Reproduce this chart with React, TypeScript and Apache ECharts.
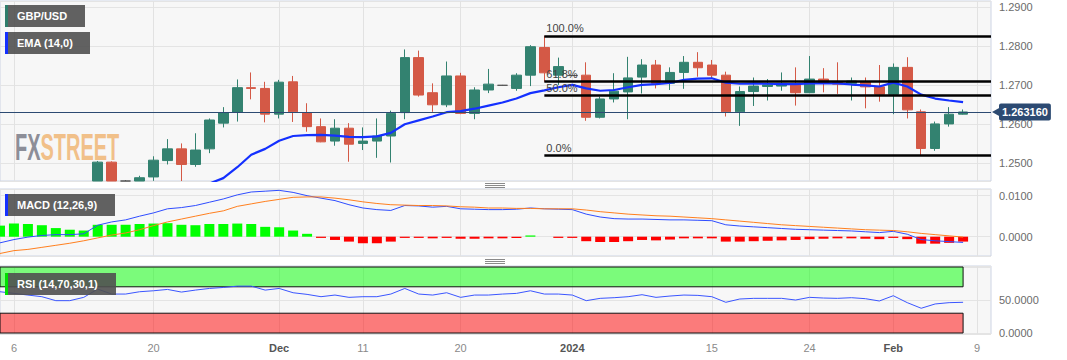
import React, { useEffect, useRef } from 'react';
import * as echarts from 'echarts';

const FONT = '"Liberation Sans", Arial, Helvetica, sans-serif';

// Category slots (trading days). The last two are empty future slots on the axis.
const dates = [
  '2023-11-03', '2023-11-06', '2023-11-07', '2023-11-08', '2023-11-09', '2023-11-10',
  '2023-11-13', '2023-11-14', '2023-11-15', '2023-11-16', '2023-11-17',
  '2023-11-20', '2023-11-21', '2023-11-22', '2023-11-23', '2023-11-24',
  '2023-11-27', '2023-11-28', '2023-11-29', '2023-11-30', '2023-12-01',
  '2023-12-04', '2023-12-05', '2023-12-06', '2023-12-07', '2023-12-08',
  '2023-12-11', '2023-12-12', '2023-12-13', '2023-12-14', '2023-12-15',
  '2023-12-18', '2023-12-19', '2023-12-20', '2023-12-21', '2023-12-22',
  '2023-12-25', '2023-12-26', '2023-12-27', '2023-12-28', '2023-12-29',
  '2024-01-01', '2024-01-02', '2024-01-03', '2024-01-04', '2024-01-05',
  '2024-01-08', '2024-01-09', '2024-01-10', '2024-01-11', '2024-01-12',
  '2024-01-15', '2024-01-16', '2024-01-17', '2024-01-18', '2024-01-19',
  '2024-01-22', '2024-01-23', '2024-01-24', '2024-01-25', '2024-01-26',
  '2024-01-29', '2024-01-30', '2024-01-31', '2024-02-01', '2024-02-02',
  '2024-02-05', '2024-02-06', '2024-02-07', '2024-02-08',
  '2024-02-09', '2024-02-12',
];

const tickLabels: Record<string, string> = {
  '2023-11-06': '6',
  '2023-11-20': '20',
  '2023-12-01': 'Dec',
  '2023-12-11': '11',
  '2023-12-20': '20',
  '2024-01-01': '2024',
  '2024-01-15': '15',
  '2024-01-24': '24',
  '2024-02-01': 'Feb',
  '2024-02-09': '9',
};
const boldTicks = ['Dec', '2024', 'Feb'];

const open = [
  1.2215, 1.2380, 1.2372, 1.2304, 1.2269, 1.2240,
  1.2230, 1.2275, 1.2503, 1.2419, 1.2412,
  1.2465, 1.2507, 1.2537, 1.2497, 1.2537,
  1.2603, 1.2631, 1.2694, 1.2692, 1.2626,
  1.2709, 1.2630, 1.2594, 1.2557, 1.2590,
  1.2551, 1.2557, 1.2570, 1.2630, 1.2771,
  1.2681, 1.2650, 1.2724, 1.2628, 1.2688,
  1.2700, 1.2692, 1.2726, 1.2797, 1.2726,
  1.2725, 1.2726, 1.2618, 1.2665, 1.2683,
  1.2721, 1.2752, 1.2705, 1.2733, 1.2759,
  1.2752, 1.2726, 1.2632, 1.2684, 1.2697,
  1.2698, 1.2705, 1.2681, 1.2716, 1.2707,
  1.2705, 1.2709, 1.2696, 1.2677, 1.2746,
  1.2632, 1.2538, 1.2601, 1.2626,
];
const high = [
  1.2428, 1.2428, 1.2380, 1.2323, 1.2306, 1.2263,
  1.2288, 1.2506, 1.2505, 1.2457, 1.2468,
  1.2518, 1.2562, 1.2551, 1.2577, 1.2615,
  1.2644, 1.2715, 1.2733, 1.2709, 1.2714,
  1.2724, 1.2654, 1.2615, 1.2613, 1.2603,
  1.2592, 1.2615, 1.2635, 1.2792, 1.2789,
  1.2705, 1.2761, 1.2732, 1.2695, 1.2742,
  1.2701, 1.2731, 1.2803, 1.2827, 1.2771,
  1.2726, 1.2759, 1.2671, 1.2731, 1.2773,
  1.2767, 1.2765, 1.2746, 1.2775, 1.2785,
  1.2765, 1.2735, 1.2697, 1.2720, 1.2716,
  1.2733, 1.2746, 1.2775, 1.2744, 1.2759,
  1.2720, 1.2720, 1.2752, 1.2756, 1.2772,
  1.2638, 1.2607, 1.2644, 1.2638,
];
const low = [
  1.2210, 1.2358, 1.2287, 1.2262, 1.2231, 1.2187,
  1.2210, 1.2268, 1.2409, 1.2375, 1.2397,
  1.2455, 1.2497, 1.2449, 1.2491, 1.2526,
  1.2592, 1.2607, 1.2664, 1.2605, 1.2615,
  1.2606, 1.2581, 1.2554, 1.2545, 1.2504,
  1.2534, 1.2514, 1.2502, 1.2613, 1.2671,
  1.2632, 1.2644, 1.2626, 1.2613, 1.2680,
  1.2699, 1.2686, 1.2698, 1.2709, 1.2701,
  1.2724, 1.2609, 1.2615, 1.2656, 1.2613,
  1.2679, 1.2692, 1.2688, 1.2691, 1.2722,
  1.2718, 1.2620, 1.2596, 1.2647, 1.2661,
  1.2686, 1.2648, 1.2680, 1.2682, 1.2678,
  1.2661, 1.2641, 1.2658, 1.2626, 1.2615,
  1.2521, 1.2532, 1.2594, 1.2625,
];
const close = [
  1.2380, 1.2372, 1.2304, 1.2269, 1.2240, 1.2230,
  1.2275, 1.2503, 1.2419, 1.2412, 1.2463,
  1.2508, 1.2537, 1.2497, 1.2534, 1.2611,
  1.2630, 1.2694, 1.2692, 1.2626, 1.2708,
  1.2632, 1.2594, 1.2555, 1.2590, 1.2549,
  1.2557, 1.2570, 1.2628, 1.2771, 1.2675,
  1.2650, 1.2724, 1.2628, 1.2688, 1.2703,
  1.2700, 1.2726, 1.2799, 1.2732, 1.2748,
  1.2725, 1.2618, 1.2665, 1.2685, 1.2719,
  1.2752, 1.2705, 1.2733, 1.2759, 1.2745,
  1.2726, 1.2632, 1.2684, 1.2698, 1.2701,
  1.2705, 1.2681, 1.2716, 1.2705, 1.2703,
  1.2711, 1.2696, 1.2677, 1.2746, 1.2637,
  1.2538, 1.2601, 1.2626, 1.26316,
];

const ema14 = [
  1.2262, 1.2277, 1.2280, 1.2278, 1.2273, 1.2267,
  1.2268, 1.2299, 1.2315, 1.2328, 1.2346,
  1.2368, 1.2391, 1.2405, 1.2422, 1.2448,
  1.2462, 1.2490, 1.2522, 1.2537, 1.2558,
  1.2570, 1.2572, 1.2573, 1.2571, 1.2568,
  1.2567, 1.2569, 1.2578, 1.2600, 1.2610,
  1.2620, 1.2631, 1.2634, 1.2640, 1.2648,
  1.2656, 1.2666, 1.2680, 1.2687, 1.2695,
  1.2701, 1.2692, 1.2686, 1.2688, 1.2695,
  1.2701, 1.2703, 1.2706, 1.2714, 1.2717,
  1.2718, 1.2707, 1.2704, 1.2705, 1.2704,
  1.2703, 1.2703, 1.2705, 1.2705, 1.2705,
  1.2702, 1.2700, 1.2697, 1.2707, 1.2697,
  1.2676, 1.2666, 1.2661, 1.2657,
];

const macdLine = [
  -0.0015,
  -0.0007, -0.0001, 0.0003, 0.0005, 0.0005, 0.0007, 0.0028, 0.0036, 0.0041, 0.0050,
  0.0058, 0.0068, 0.0071, 0.0076, 0.0084, 0.0092, 0.0102, 0.0109, 0.0111, 0.0113,
  0.0108, 0.0100, 0.0094, 0.0088, 0.0078, 0.0070, 0.0066, 0.0064, 0.0076, 0.0075,
  0.0072, 0.0074, 0.0068, 0.0067, 0.0066, 0.0066, 0.0067, 0.0070, 0.0068, 0.0067,
  0.0066, 0.0055, 0.0048, 0.0044, 0.0043, 0.0043, 0.0042, 0.0041, 0.0041, 0.0040,
  0.0039, 0.0029, 0.0026, 0.0024, 0.0022, 0.0020, 0.0018, 0.0017, 0.0016, 0.0015,
  0.0014, 0.0012, 0.0010, 0.0013, 0.0006, -0.0007, -0.0010, -0.0012, -0.0014,
];
const signalLine = [
  -0.0041,
  -0.0034, -0.0031, -0.0026, -0.0021, -0.0016, -0.0010, -0.0003, 0.0004, 0.0009, 0.0017,
  0.0027, 0.0036, 0.0043, 0.0050, 0.0057, 0.0063, 0.0074, 0.0080, 0.0086, 0.0091,
  0.0096, 0.0097, 0.0097, 0.0094, 0.0090, 0.0085, 0.0081, 0.0078, 0.0077, 0.0076,
  0.0076, 0.0075, 0.0073, 0.0072, 0.0070, 0.0070, 0.0069, 0.0069, 0.0068, 0.0068,
  0.0068, 0.0065, 0.0061, 0.0058, 0.0055, 0.0053, 0.0051, 0.0050, 0.0048, 0.0046,
  0.0044, 0.0041, 0.0038, 0.0035, 0.0032, 0.0029, 0.0027, 0.0025, 0.0023, 0.0021,
  0.0019, 0.0017, 0.0016, 0.0015, 0.0012, 0.0008, 0.0005, 0.0002, -0.0001,
];
const macdHist = [
  0.0027,
  0.0032, 0.0031, 0.0028, 0.0021, 0.0017, 0.0015, 0.0029, 0.0029, 0.0029, 0.0031,
  0.0032, 0.0033, 0.0029, 0.0028, 0.0031, 0.0031, 0.0032, 0.0031, 0.0024, 0.0023,
  0.0015, 0.0007, -0.0003, -0.0008, -0.0012, -0.0016, -0.0016, -0.0012, -0.0003, -0.0003,
  -0.0004, -0.0003, -0.0005, -0.0005, -0.0004, -0.0004, -0.0003, 0.0003, 0.0000, -0.0003,
  -0.0003, -0.0011, -0.0013, -0.0013, -0.0011, -0.0008, -0.0009, -0.0007, -0.0004, -0.0004,
  -0.0004, -0.0012, -0.0012, -0.0011, -0.0010, -0.0009, -0.0008, -0.0006, -0.0005, -0.0004,
  -0.0004, -0.0005, -0.0006, -0.0003, -0.0006, -0.0017, -0.0017, -0.0015, -0.0012,
];

const rsi = [
  62.5,
  60, 57.5, 55, 49, 49, 54, 66.5, 59, 59, 62.5,
  64, 66, 62, 65, 67.5, 69, 71, 71, 65, 67.5,
  61, 58.5, 55, 57.5, 54, 55, 55, 59, 67.5, 59,
  57.5, 61, 54, 57.5, 57.5, 59, 60, 64, 59, 59,
  57.5, 49, 52.5, 53.5, 55, 58, 54, 56, 57.5, 57,
  55, 46.5, 51.5, 52.5, 52.5, 52.5, 50, 54, 53, 52.5,
  53.5, 52, 48.5, 56.5, 46, 37.5, 44, 46, 46.5,
];

const lastPrice = 1.26316;
const fibStartDate = '2023-12-28';
const fibLevels = [
  { label: '100.0%', value: 1.2827 },
  { label: '61.8%', value: 1.2710 },
  { label: '50.0%', value: 1.2674 },
  { label: '0.0%', value: 1.2521 },
];
const rsiOverbought = 70;
const rsiOversold = 30;

const PRICE_MIN = 1.24546;
const PRICE_MAX = 1.29162;
const GRID_RIGHT = 76;
const tickShown = (i: number) => !!tickLabels[dates[i]];

function xAxis(gridIndex: number, showLabels: boolean) {
  return {
    type: 'category',
    gridIndex,
    data: dates,
    boundaryGap: false,
    axisLine: { show: false },
    axisTick: { show: false },
    axisPointer: { show: false },
    axisLabel: {
      show: showLabels,
      interval: (i: number) => tickShown(i),
      formatter: (v: string) => {
        const t = tickLabels[v];
        if (!t) return '';
        return boldTicks.includes(t) ? `{b|${t}}` : t;
      },
      color: '#8a8a8a',
      fontSize: 11,
      margin: 8,
      rich: { b: { fontWeight: 'bold', color: '#555', fontSize: 11 } },
    },
    splitLine: {
      show: true,
      interval: (i: number) => tickShown(i),
      lineStyle: { color: '#e2e2e2', width: 1 },
    },
  };
}

function yAxis(gridIndex: number, min: number, max: number, splitNumber: number, hideVal?: number) {
  return {
    type: 'value',
    gridIndex,
    position: 'right',
    min,
    max,
    splitNumber,
    axisLine: { show: false },
    axisTick: { show: false },
    axisLabel: {
      showMinLabel: false,
      showMaxLabel: false,
      color: '#6b6b6b',
      fontSize: 11,
      margin: 8,
      formatter: (v: number) => (hideVal !== undefined && Math.abs(v - hideVal) < 1e-9 ? '' : v.toFixed(4)),
    },
    splitLine: { show: true, lineStyle: { color: '#e4e4e4', width: 1 } },
  };
}

function labelBox(x: number, y: number, w: number, text: string, barColor: string) {
  return {
    type: 'group',
    z: 30,
    children: [
      { type: 'rect', z: 30, shape: { x, y, width: w, height: 22 }, style: { fill: 'rgba(80,80,80,0.9)' } },
      { type: 'rect', z: 31, shape: { x, y, width: 3, height: 22 }, style: { fill: barColor } },
      {
        type: 'text', z: 31, x: x + 12, y: y + 11,
        style: { text, fill: '#ffffff', font: `bold 11px ${FONT}`, verticalAlign: 'middle' },
      },
    ],
  };
}

function handle(y: number) {
  return {
    type: 'group',
    z: 30,
    children: [0, 1, 2].map((j) => ({
      type: 'line',
      shape: { x1: 485, y1: y + j * 2 + 0.5, x2: 505, y2: y + j * 2 + 0.5 },
      style: { stroke: '#8a8a8a', lineWidth: 1 },
    })),
  };
}

export default function App() {
  const ref = useRef<HTMLDivElement>(null);

  useEffect(() => {
    if (!ref.current) return;
    const chart = echarts.init(ref.current, null, { renderer: 'svg' });

    // candlestick boxes are not clipped partially, so cut them at the panel floor
    const floor = (v: number) => Math.max(v, PRICE_MIN);
    const candles = open.map((o, k) =>
      high[k] < PRICE_MIN ? '-' : [floor(o), floor(close[k]), floor(low[k]), floor(high[k])]
    );
    const lastCat = dates[dates.length - 1];
    const lastDataCat = dates[open.length - 1];

    const gridBase = {
      left: 0,
      right: GRID_RIGHT,
      show: true,
      backgroundColor: '#f7f7f7',
      borderColor: '#cdd4e4',
      borderWidth: 1,
    };

    const option: any = {
      animation: false,
      textStyle: { fontFamily: FONT },
      grid: [
        { ...gridBase, top: 1, height: 180 },
        { ...gridBase, top: 189, height: 67 },
        { ...gridBase, top: 266, height: 68 },
      ],
      xAxis: [xAxis(0, false), xAxis(1, false), xAxis(2, true)],
      yAxis: [
        yAxis(0, PRICE_MIN, PRICE_MAX, 5),
        yAxis(1, -0.00471, 0.01163, 2),
        yAxis(2, -1.5, 101.5, 2, 100),
      ],
      series: [
        {
          name: 'GBP/USD',
          type: 'candlestick',
          xAxisIndex: 0,
          yAxisIndex: 0,
          data: candles,
          barWidth: 10,
          clip: true,
          itemStyle: {
            color: '#338270',
            color0: '#d45946',
            borderColor: '#338270',
            borderColor0: '#d45946',
            borderColorDoji: '#555555',
            borderWidth: 1,
          },
          markLine: {
            silent: true,
            precision: 6,
            symbol: ['none', 'none'],
            data: [
              ...fibLevels.map((f) => [
                {
                  coord: [fibStartDate, f.value],
                  lineStyle: { color: '#000000', width: 2.5, type: 'solid' },
                  label: {
                    show: true,
                    position: 'insideStartTop',
                    formatter: f.label,
                    color: '#444',
                    fontSize: 11,
                    distance: 2,
                  },
                },
                { coord: [lastCat, f.value] },
              ]),
              {
                yAxis: lastPrice,
                lineStyle: { color: '#2c4a72', width: 1, type: 'solid' },
                label: {
                  show: true,
                  position: 'end',
                  distance: 8,
                  formatter: lastPrice.toFixed(6),
                  backgroundColor: '#2c4a72',
                  color: '#ffffff',
                  fontWeight: 'bold',
                  fontSize: 11,
                  padding: [3, 3, 3, 3],
                  borderRadius: 2,
                },
              },
            ],
          },
          markPoint: {
            silent: true,
            symbol: 'triangle',
            symbolSize: [9, 8],
            symbolRotate: 90,
            symbolOffset: [5, 0],
            itemStyle: { color: '#2c4a72' },
            label: { show: false },
            data: [{ coord: [lastCat, lastPrice] }],
          },
        },
        {
          name: 'EMA',
          type: 'line',
          xAxisIndex: 0,
          yAxisIndex: 0,
          data: ema14,
          showSymbol: false,
          symbol: 'none',
          clip: true,
          lineStyle: { color: '#1430ff', width: 2.2 },
          z: 3,
        },
        {
          name: 'Histogram',
          type: 'bar',
          xAxisIndex: 1,
          yAxisIndex: 1,
          data: macdHist,
          barWidth: 10,
          itemStyle: {
            color: (p: any) => (p.value >= 0 ? '#00ff00' : '#ff0000'),
          },
        },
        {
          name: 'MACD',
          type: 'line',
          xAxisIndex: 1,
          yAxisIndex: 1,
          data: macdLine,
          showSymbol: false,
          symbol: 'none',
          lineStyle: { color: '#2e4cff', width: 1 },
          z: 4,
        },
        {
          name: 'Signal',
          type: 'line',
          xAxisIndex: 1,
          yAxisIndex: 1,
          data: signalLine,
          showSymbol: false,
          symbol: 'none',
          lineStyle: { color: '#ff7f1e', width: 1 },
          z: 4,
        },
        {
          name: 'RSI',
          type: 'line',
          xAxisIndex: 2,
          yAxisIndex: 2,
          data: rsi,
          showSymbol: false,
          symbol: 'none',
          lineStyle: { color: '#3a55ff', width: 1 },
          z: 4,
          markArea: {
            silent: true,
            data: [
              [
                {
                  xAxis: dates[0],
                  yAxis: rsiOverbought,
                  itemStyle: { color: 'rgba(0,255,0,0.5)', borderColor: '#111', borderWidth: 1 },
                },
                { xAxis: lastDataCat, yAxis: 100 },
              ],
              [
                {
                  xAxis: dates[0],
                  yAxis: 0,
                  itemStyle: { color: 'rgba(255,0,0,0.5)', borderColor: '#111', borderWidth: 1 },
                },
                { xAxis: lastDataCat, yAxis: rsiOversold },
              ],
            ],
          },
        },
      ],
      graphic: [
        {
          type: 'text',
          z: 1,
          x: 15,
          y: 147,
          scaleX: 0.54,
          style: {
            text: '{f|FX}{s|STREET}',
            font: `bold 37px ${FONT}`,
            verticalAlign: 'middle',
            rich: {
              f: { fill: '#8d8e98', fontSize: 37, fontWeight: 'bold', fontFamily: FONT },
              s: { fill: '#f1c089', fontSize: 37, fontWeight: 'bold', fontFamily: FONT },
            },
          },
        },
        labelBox(5, 5, 80, 'GBP/USD', '#2e7d6b'),
        labelBox(5, 32, 85, 'EMA (14,0)', '#1430ff'),
        labelBox(5, 194, 110, 'MACD (12,26,9)', '#1430ff'),
        labelBox(5, 273, 111, 'RSI (14,70,30,1)', '#00e000'),
        handle(183),
        handle(259),
      ],
    };

    chart.setOption(option);
    return () => chart.dispose();
  }, []);

  return (
    <div
      ref={ref}
      style={{ position: 'absolute', left: 0, top: 0, width: 1067, height: 360, background: '#ffffff' }}
    />
  );
}
